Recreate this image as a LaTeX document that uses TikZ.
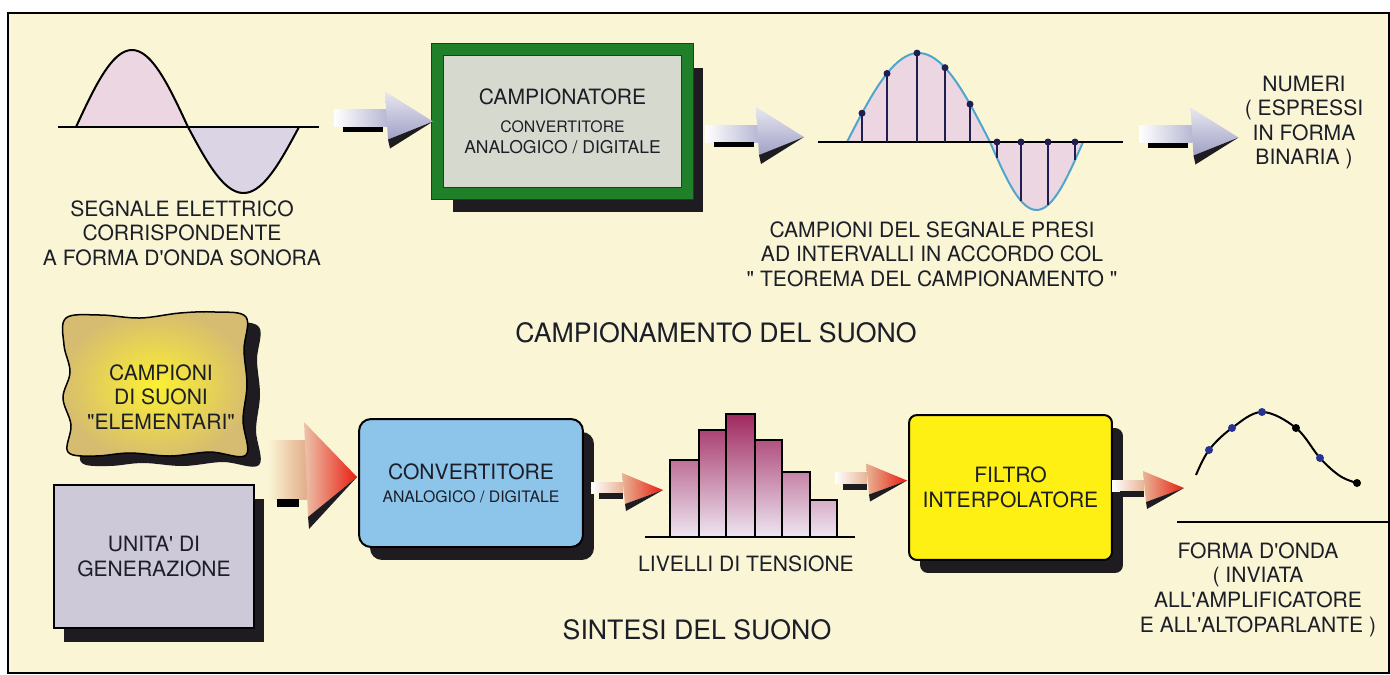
\documentclass[tikz,border=0pt]{standalone}
\usepackage{fontspec}
\setmainfont{TeX Gyre Heros}
\usetikzlibrary{positioning,calc,shadows}
\definecolor{cream}{RGB}{250,245,213}
\definecolor{framegreen}{RGB}{32,128,42}
\definecolor{campgray}{RGB}{214,218,206}
\definecolor{convblue}{RGB}{140,196,234}
\definecolor{filtroyellow}{RGB}{255,240,20}
\definecolor{unitagray}{RGB}{205,201,217}
\definecolor{parchin}{RGB}{252,240,50}
\definecolor{parchout}{RGB}{214,188,112}
\definecolor{wavepink}{RGB}{236,214,226}
\definecolor{wavelav}{RGB}{218,212,228}
\definecolor{curveblue}{RGB}{80,165,205}
\definecolor{stemnavy}{RGB}{30,30,80}
\definecolor{bartop}{RGB}{160,40,95}
\definecolor{barbot}{RGB}{238,230,242}
\definecolor{lavhead}{RGB}{160,160,198}
\definecolor{redtip}{RGB}{232,30,16}
\definecolor{peach}{RGB}{232,180,150}
\definecolor{shadowc}{RGB}{30,28,32}
\definecolor{dotblue}{RGB}{40,50,150}
\definecolor{inktext}{RGB}{28,30,40}

\tikzset{
  pics/lavarrow/.style={code={
      \shade[left color=white, right color=lavhead!75] (-99,-12) rectangle (-46,5);
      \fill[black] (-90,5) rectangle (-50,10);
      \shade[top color=lavhead!25, bottom color=lavhead] (-48,-30) -- (0,0) -- (-45,18) -- cycle;
      \fill[shadowc] (-45,18) -- (0,0) -- (-43,27) -- cycle;
  }},
  pics/redarrow/.style={code={
      \shade[left color=white, right color=peach] (-72,-8) rectangle (-40,3);
      \fill[shadowc] (-64,3) rectangle (-40,9);
      \shade[left color=peach, right color=redtip] (-41,-17) -- (0,0) -- (-38,14) -- cycle;
      \fill[shadowc] (-38,14) -- (0,0) -- (-37,21) -- cycle;
  }},
  pics/bigarrow/.style={code={
      \shade[left color=cream, right color=peach!85!brown] (-89,-37) rectangle (-50,22);
      \fill[black] (-80,22) rectangle (-58,30);
      \shade[left color=peach!80, right color=redtip] (-53,-55) -- (0,0) -- (-49,40) -- cycle;
      \fill[shadowc] (-49,40) -- (0,0) -- (-48,52) -- cycle;
  }}
}

\begin{document}
\begin{tikzpicture}[x=0.02cm, y=-0.02cm,
    every node/.style={text=inktext},
    lbl/.style={font=\fontsize{12}{14}\selectfont, align=center, inner sep=0pt},
    title/.style={font=\fontsize{15.2}{18}\selectfont, inner sep=0pt},
    axisline/.style={line width=0.04cm, black},
    stem/.style={line width=0.05cm, stemnavy},
    boxshadow/.style={general shadow={fill=shadowc, shadow xshift=0.22cm, shadow yshift=-0.26cm}},
    campbox/.style={draw=framegreen!55!black, double=framegreen, double distance=0.22cm,
      line width=0.02cm, fill=campgray, minimum width=5cm, minimum height=2.88cm,
      align=center, inner sep=0pt,
      general shadow={fill=shadowc, shadow xshift=0.31cm, shadow yshift=-0.37cm}},
    convbox/.style={draw=black, line width=0.04cm, fill=convblue, rounded corners=0.24cm,
      minimum width=4.48cm, minimum height=2.56cm, align=center, boxshadow},
    filtrobox/.style={draw=black, line width=0.04cm, fill=filtroyellow, rounded corners=0.16cm,
      minimum width=4.06cm, minimum height=2.9cm, align=center, boxshadow,
      font=\fontsize{12}{14}\selectfont},
    unitabox/.style={draw=black, line width=0.04cm, fill=unitagray,
      minimum width=4cm, minimum height=2.86cm, align=center,
      general shadow={fill=shadowc, shadow xshift=0.2cm, shadow yshift=-0.28cm},
      font=\fontsize{12}{14}\selectfont},
    parch/.style={draw=black, line width=0.03cm, inner color=parchin, outer color=parchout,
      general shadow={fill=shadowc, shadow xshift=0.26cm, shadow yshift=-0.2cm}}
  ]
  \fill[white] (0,0) rectangle (1390,674);
  \draw[fill=cream, line width=0.03cm] (8,13) rectangle (1389,673);
  \useasboundingbox (0,0) rectangle (1390,674);

  % campionamento
  \coordinate (ax1w) at (58,127);
  \coordinate (ax1e) at (319,127);
  \fill[wavepink] plot[domain=0:180, samples=40] ({76+\x/180*112},{127-77*sin(\x)}) -- cycle;
  \fill[wavelav] plot[domain=0:180, samples=40] ({188+\x/180*111},{127+66*sin(\x)}) -- cycle;
  \draw[axisline] (ax1w) -- (ax1e);
  \draw[line width=0.04cm] plot[domain=0:180, samples=40] ({76+\x/180*112},{127-77*sin(\x)})
    -- plot[domain=0:180, samples=40] ({188+\x/180*111},{127+66*sin(\x)});
  \node[lbl] (seglbl) at (182,233) {SEGNALE ELETTRICO\\CORRISPONDENTE\\A FORMA D\textquotesingle ONDA SONORA};

  \node[campbox] (camp) at (562.5,121.5) {\fontsize{12}{14}\selectfont CAMPIONATORE\\[4pt]
    \fontsize{9}{11}\selectfont CONVERTITORE\\ANALOGICO / DIGITALE};

  \coordinate (ax2w) at (818,142);
  \coordinate (ax2e) at (1123,142);
  \fill[wavepink] plot[domain=0:180, samples=40] ({847+\x/180*143},{142-89*sin(\x)}) -- cycle;
  \fill[wavepink] plot[domain=0:180, samples=40] ({990+\x/180*93},{142+68*sin(\x)}) -- cycle;
  \draw[curveblue, line width=0.04cm] plot[domain=0:180, samples=40] ({847+\x/180*143},{142-89*sin(\x)})
    -- plot[domain=0:180, samples=40] ({990+\x/180*93},{142+68*sin(\x)});
  \draw[axisline] (ax2w) -- (ax2e);
  \foreach \sx in {862,887,917,945,970} {
    \draw[stem] (\sx,142) -- (\sx,{142-89*sin((\sx-847)/143*180)});
    \fill[stemnavy] (\sx,{142-89*sin((\sx-847)/143*180)}) circle (0.07cm);
  }
  \foreach \sx in {997,1021,1048,1075} {
    \draw[stem] (\sx,142) -- (\sx,{142+68*sin((\sx-990)/93*180)});
    \fill[stemnavy] (\sx,142) circle (0.07cm);
  }
  \node[lbl] (camplbl) at (932,254) {CAMPIONI DEL SEGNALE PRESI\\AD INTERVALLI IN ACCORDO COL\\\textquotedbl{} TEOREMA DEL CAMPIONAMENTO \textquotedbl};
  \node[lbl] (numeri) at (1304,122.5) {NUMERI\\( ESPRESSI\\IN FORMA\\BINARIA )};

  \pic at ($(camp.west)+(-4,0)$) {lavarrow};
  \pic at ($(ax2w)+(-14,-5)$) {lavarrow};
  \pic at ($(numeri.west)+(-6,15)$) {lavarrow};

  \node[title] (tit1) at (716,333) {CAMPIONAMENTO DEL SUONO};

  % sintesi
  \draw[parch] plot[smooth cycle, tension=0.6] coordinates {(66,318) (100,315) (140,318) (180,313)
    (215,312) (246,317) (244,350) (247,385) (243,420) (246,455) (210,452) (170,456) (130,453)
    (95,456) (68,452) (71,425) (63,398) (70,372) (64,345)};
  \node[lbl] (campsuoni) at (161,397) {CAMPIONI\\DI SUONI\\\textquotedbl ELEMENTARI\textquotedbl};

  \node[unitabox] (unita) at (154,556.5) {UNITA\textquotesingle{} DI\\GENERAZIONE};

  \node[convbox] (conv) at (471,483) {\fontsize{12}{14}\selectfont CONVERTITORE\\[1pt]
    \fontsize{9}{11}\selectfont ANALOGICO / DIGITALE};
  \pic at ($(conv.west)+(-1,-6)$) {bigarrow};

  \coordinate (hbase) at (645,537);
  \foreach \xa/\xb/\ty in {670/699/460, 699/726/430, 726/755/414, 755/782/440, 782/810/472, 810/837/500} {
    \pgfmathtruncatemacro\p{(537-\ty)/123*100}
    \draw[line width=0.04cm, top color=bartop!\p!barbot, bottom color=barbot] (\xa,537) rectangle (\xb,\ty);
  }
  \draw[axisline] (hbase) -- (855,537);
  \node[lbl, below=0.36cm of {$(hbase)+(101,0)$}] (livelli) {LIVELLI DI TENSIONE};
  \pic at ($(hbase)+(18,-47)$) {redarrow};

  \node[filtrobox] (filtro) at (1010.5,487.5) {FILTRO\\INTERPOLATORE};
  \pic at ($(filtro.west)+(-1,-7)$) {redarrow};

  \coordinate (fbase) at (1177,522);
  \draw[line width=0.04cm] plot[smooth, tension=0.6] coordinates {(1196,475) (1209,450) (1232,428)
    (1262,412) (1296,428) (1320,458) (1340,476) (1357,483)};
  \foreach \dx/\dy/\dc in {1209/450/dotblue, 1232/428/dotblue, 1262/412/dotblue, 1296/428/black,
      1320/458/dotblue, 1357/483/black}
    \fill[\dc] (\dx,\dy) circle (0.08cm);
  \draw[axisline] (fbase) -- (1388,522);
  \pic at ($(fbase)+(7,-34)$) {redarrow};
  \node[lbl] (forma) at (1258,589.5) {FORMA D\textquotesingle ONDA\\( INVIATA\\ALL\textquotesingle AMPLIFICATORE\\E ALL\textquotesingle ALTOPARLANTE )};

  \node[title] (tit2) at (697,630) {SINTESI DEL SUONO};
\end{tikzpicture}
\end{document}
